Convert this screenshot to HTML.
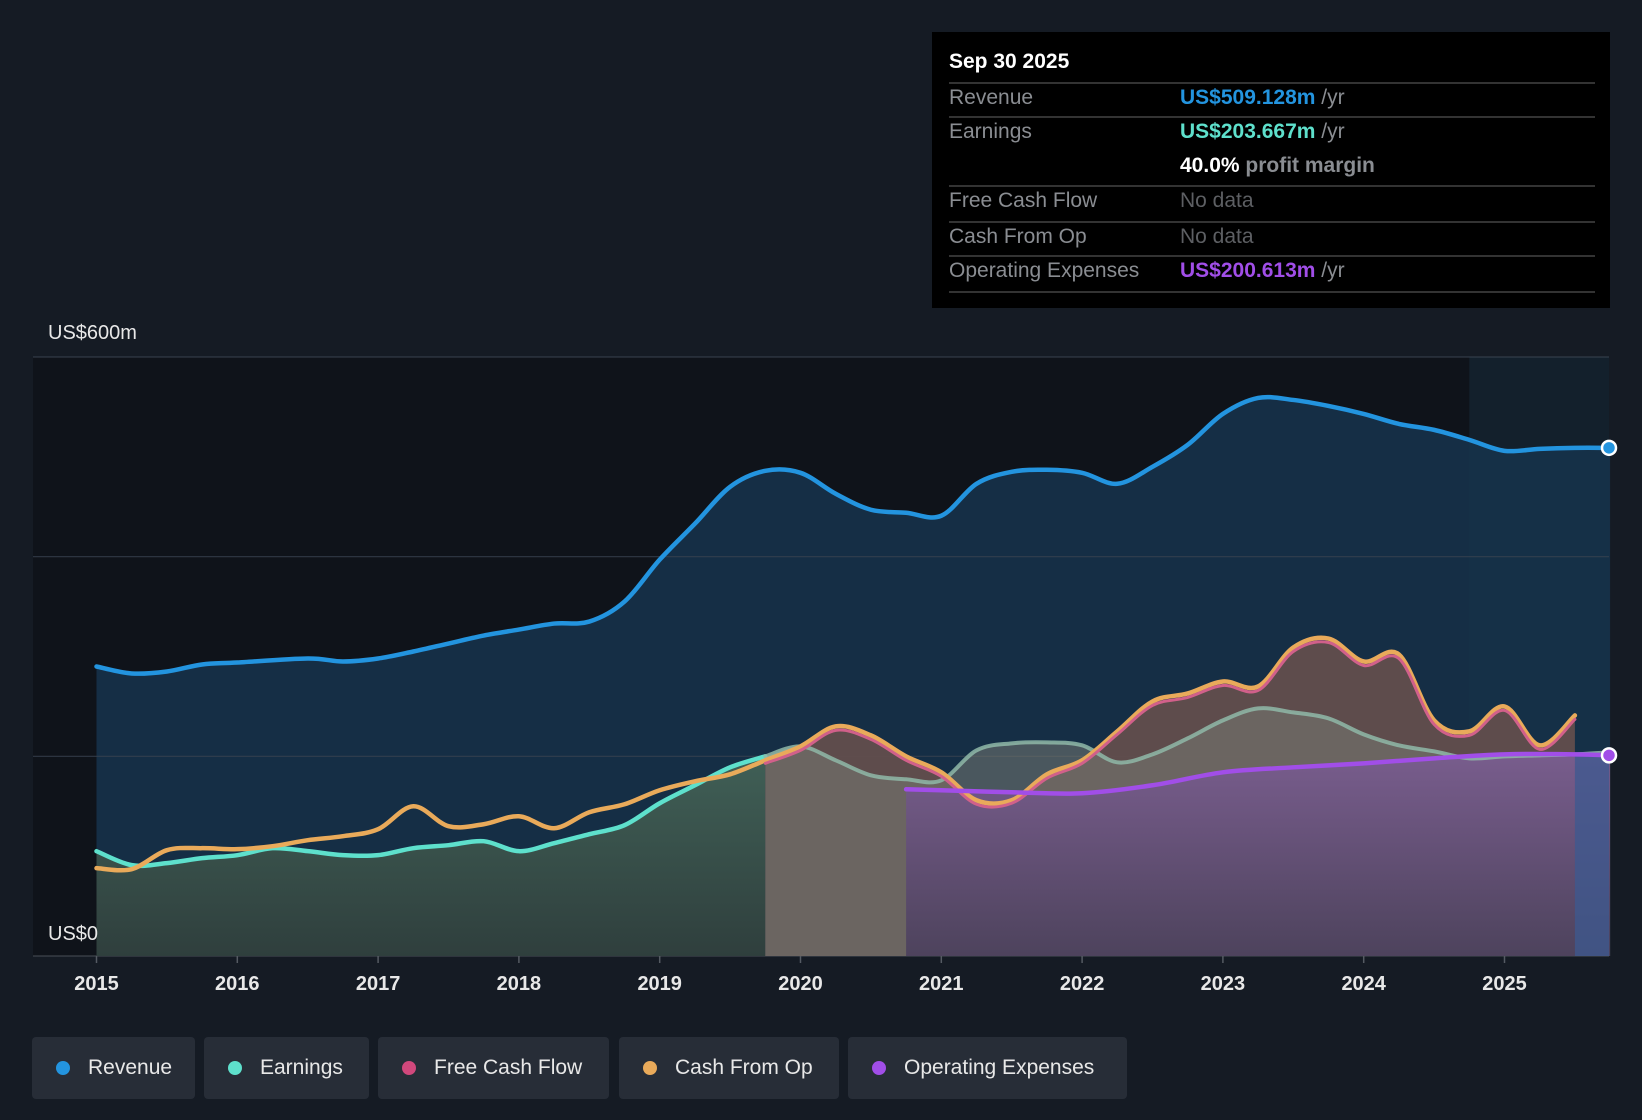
<!DOCTYPE html>
<html><head><meta charset="utf-8">
<style>
body{margin:0;background:#151b24;font-family:"Liberation Sans",Roboto,sans-serif;}
#wrap{position:relative;width:1642px;height:1120px;overflow:hidden;background:#151b24;}
svg{position:absolute;left:0;top:0;}
.tip{position:absolute;left:932px;top:32px;width:678px;height:276px;background:#000;}
.tip .t{position:absolute;left:17px;top:18px;color:#fff;font-size:21px;font-weight:bold;}
.tip .ln{position:absolute;left:17px;width:646px;height:2px;background:#333;}
.tip .r{position:absolute;left:17px;font-size:21px;color:#8a8d92;}
.tip .v{position:absolute;left:248px;font-size:21px;font-weight:bold;}
.tip .v span{color:#8a8d92;font-weight:normal;}
.leg{position:absolute;top:1037px;height:62px;background:#272d37;border-radius:4px;color:#e8e8e8;font-size:21px;line-height:62px;}
.leg i{position:absolute;left:24px;top:24px;width:14px;height:14px;border-radius:50%;}
.leg b{position:absolute;left:56px;font-weight:500;}
</style></head><body>
<div id="wrap">
<svg id="chart" width="1642" height="1120"><defs>
<linearGradient id="gOp" x1="0" y1="0" x2="0" y2="1"><stop offset="0" stop-color="#7a5c92"/><stop offset="1" stop-color="#4a3f5c"/></linearGradient>
<linearGradient id="gEa" x1="0" y1="0" x2="0" y2="1"><stop offset="0" stop-color="#44675c"/><stop offset="1" stop-color="#2f3f3d"/></linearGradient>
</defs></svg>
<div class="tip">
 <div class="t">Sep 30 2025</div>
 <div class="ln" style="top:50px"></div>
 <div class="r" style="top:54px">Revenue</div>
 <div class="v" style="top:54px;color:#2394df">US$509.128m <span>/yr</span></div>
 <div class="ln" style="top:84px"></div>
 <div class="r" style="top:88px">Earnings</div>
 <div class="v" style="top:88px;color:#5ee0cc">US$203.667m <span>/yr</span></div>
 <div class="v" style="top:122px;color:#fff">40.0% <span style="font-weight:bold">profit margin</span></div>
 <div class="ln" style="top:153px"></div>
 <div class="r" style="top:157px">Free Cash Flow</div>
 <div class="v" style="top:157px;color:#5d5f63;font-weight:normal">No data</div>
 <div class="ln" style="top:189px"></div>
 <div class="r" style="top:193px">Cash From Op</div>
 <div class="v" style="top:193px;color:#5d5f63;font-weight:normal">No data</div>
 <div class="ln" style="top:223px"></div>
 <div class="r" style="top:227px">Operating Expenses</div>
 <div class="v" style="top:227px;color:#a14ee8">US$200.613m <span>/yr</span></div>
 <div class="ln" style="top:259px"></div>
</div>
<div class="leg" style="left:32px;width:163px"><i style="background:#2394df"></i><b>Revenue</b></div>
<div class="leg" style="left:204px;width:165px"><i style="background:#5ee0cc"></i><b>Earnings</b></div>
<div class="leg" style="left:378px;width:231px"><i style="background:#d1487c"></i><b>Free Cash Flow</b></div>
<div class="leg" style="left:619px;width:220px"><i style="background:#e9aa5a"></i><b>Cash From Op</b></div>
<div class="leg" style="left:848px;width:279px"><i style="background:#a14ee8"></i><b>Operating Expenses</b></div>
</div>
<script>
const yearTicks=[2015,2016,2017,2018,2019,2020,2021,2022,2023,2024,2025];
const yLabels=["US$600m","US$0"];
const revT=[2015,2015.25,2015.5,2015.75,2016,2016.5,2016.75,2017,2017.25,2017.5,2017.75,2018,2018.25,2018.5,2018.75,2019,2019.25,2019.5,2019.75,2020,2020.25,2020.5,2020.75,2021,2021.25,2021.5,2021.75,2022,2022.25,2022.5,2022.75,2023,2023.25,2023.5,2023.75,2024,2024.25,2024.5,2024.75,2025,2025.25,2025.5,2025.75];
const revV=[290,283,285,292,294,298,295,298,305,313,321,327,333,335,355,397,433,470,486,484,463,447,444,441,473,485,487,484,473,490,512,543,559,557,551,543,533,527,517,506,508,509,509];
const earnT=[2015,2015.25,2015.5,2015.75,2016,2016.25,2016.5,2016.75,2017,2017.25,2017.5,2017.75,2018,2018.25,2018.5,2018.75,2019,2019.25,2019.5,2019.75,2020,2020.25,2020.5,2020.75,2021,2021.25,2021.5,2021.75,2022,2022.25,2022.5,2022.75,2023,2023.25,2023.5,2023.75,2024,2024.25,2024.5,2024.75,2025,2025.25,2025.5,2025.75];
const earnV=[105,91,93,98,101,108,105,101,101,108,111,115,105,113,122,131,153,171,189,200,210,196,181,177,176,206,213,214,211,194,202,218,236,248,244,238,222,211,205,198,200,201,202,204];
const cfoT=[2015,2015.25,2015.5,2015.75,2016,2016.25,2016.5,2016.75,2017,2017.25,2017.5,2017.75,2018,2018.25,2018.5,2018.75,2019,2019.25,2019.5,2019.75,2020,2020.25,2020.5,2020.75,2021,2021.25,2021.5,2021.75,2022,2022.25,2022.5,2022.75,2023,2023.25,2023.5,2023.75,2024,2024.25,2024.5,2024.75,2025,2025.25,2025.5];
const cfoV=[88,87,106,108,107,110,116,120,127,150,130,132,140,128,144,152,166,175,182,196,210,230,221,200,184,156,156,182,196,225,255,263,275,270,309,318,295,302,236,225,250,211,241];
const fcfT=[2019.75,2020,2020.25,2020.5,2020.75,2021,2021.25,2021.5,2021.75,2022,2022.25,2022.5,2022.75,2023,2023.25,2023.5,2023.75,2024,2024.25,2024.5,2024.75,2025,2025.25,2025.5];
const fcfV=[193,206,226,217,196,180,152,153,178,193,222,251,259,271,266,305,314,291,298,232,221,246,207,237];
const opxT=[2020.75,2021,2021.5,2022,2022.5,2023,2023.5,2024,2024.5,2025,2025.5,2025.75];
const opxV=[167,166,164,163,171,184,189,193,198,202,202,201];

const svg=document.getElementById('chart');
const NS='http://www.w3.org/2000/svg';
const X0=96.5,PX=140.8,Y0=956,PY=(956-357)/600;
const xs=t=>X0+(t-2015)*PX, ys=v=>Y0-v*PY;
const R=1609;
function el(tag,at){const e=document.createElementNS(NS,tag);for(const k in at)e.setAttribute(k,at[k]);svg.appendChild(e);return e;}
function pts(T,V){return T.map((t,i)=>[xs(t),ys(V[i])]);}
function curve(p){let d='M'+p[0][0]+','+p[0][1];for(let i=0;i<p.length-1;i++){const a=p[i-1]||p[i],b=p[i],c=p[i+1],e=p[i+2]||c;
d+=' C'+(b[0]+(c[0]-a[0])/6)+','+(b[1]+(c[1]-a[1])/6)+' '+(c[0]-(e[0]-b[0])/6)+','+(c[1]-(e[1]-b[1])/6)+' '+c[0]+','+c[1];}return d;}
function area(p){return curve(p)+' L'+p[p.length-1][0]+','+Y0+' L'+p[0][0]+','+Y0+' Z';}

let r=el('rect',{x:33,y:357,width:R-33,height:Y0-357,fill:'#0f131a'});

let fc=el('rect',{x:xs(2024.75),y:357,width:R-xs(2024.75),height:Y0-357,fill:'#13202c'});


const rp=pts(revT,revV);
let a=el('path',{d:area(rp),fill:'#16324a',opacity:0.9});

[0,200,400,600].forEach(v=>{let g=el('line',{x1:33,x2:R,y1:ys(v),y2:ys(v),stroke:v==0?'#4a5058':'#3a4350','stroke-width':1.2,opacity:0.8});
});

const ep=pts(earnT,earnV);
let cl=el('clipPath',{id:'c1'});let cr=document.createElementNS(NS,'rect');cr.setAttribute('x',0);cr.setAttribute('y',0);cr.setAttribute('width',xs(2019.75));cr.setAttribute('height',1120);cl.appendChild(cr);
let cl2=el('clipPath',{id:'c2'});let cr2=document.createElementNS(NS,'rect');cr2.setAttribute('x',xs(2019.75));cr2.setAttribute('y',0);cr2.setAttribute('width',1000);cr2.setAttribute('height',1120);cl2.appendChild(cr2);
let ea=el('path',{d:area(ep),fill:'url(#gEa)','clip-path':'url(#c1)'});

const fp=pts(fcfT,fcfV);
let fa=el('path',{d:area(fp),fill:'#624e4d',opacity:0.95});

let ea2=el('path',{d:area(ep),fill:'#767a72',opacity:0.55,'clip-path':'url(#c2)'});

const op=pts(opxT,opxV);
let oa=el('path',{d:area(op),fill:'url(#gOp)',opacity:0.9});

let fb=el('rect',{x:xs(2025.5),y:ys(202),width:R-xs(2025.5),height:Y0-ys(202),fill:'#3d5a90',opacity:0.75});


function line(p,c,n,w,op){let l=el('path',{d:curve(p),fill:'none',stroke:c,'stroke-width':w||4.5,opacity:op||1,'stroke-linejoin':'round','stroke-linecap':'round'});
}
line(ep.filter(q=>q[0]<=xs(2019.75)+1),'#5ee0cc','earnings-line-early');
line(ep.filter(q=>q[0]>=xs(2019.75)-1),'#8fb8a8','earnings-line',4,0.85);
line(pts(cfoT,cfoV),'#e9aa5a','cfo-line');
line(fp,'#d1608a','fcf-line',3);
line(op,'#a14ee8','opex-line');
line(rp,'#2394df','revenue-line');
let d1=el('circle',{cx:R,cy:ys(509),r:7,fill:'#2394df',stroke:'#fff','stroke-width':2.5});

let d2=el('circle',{cx:R,cy:ys(201),r:7,fill:'#a14ee8',stroke:'#fff','stroke-width':2.5});


yearTicks.forEach(yv=>{let tk=el('line',{x1:xs(yv),x2:xs(yv),y1:Y0,y2:Y0+7,stroke:'#555b63','stroke-width':1.5});

let t=el('text',{x:xs(yv),y:990,fill:'#e8e8e8','font-size':20,'text-anchor':'middle','font-family':'Liberation Sans, sans-serif','font-weight':'bold'});
t.textContent=yv;});
[[yLabels[0],339],[yLabels[1],940]].forEach(([s,y])=>{let t=el('text',{x:48,y:y,fill:'#e8e8e8','font-size':20,'font-family':'Liberation Sans, sans-serif'});
t.textContent=s;});
</script>
</body></html>
